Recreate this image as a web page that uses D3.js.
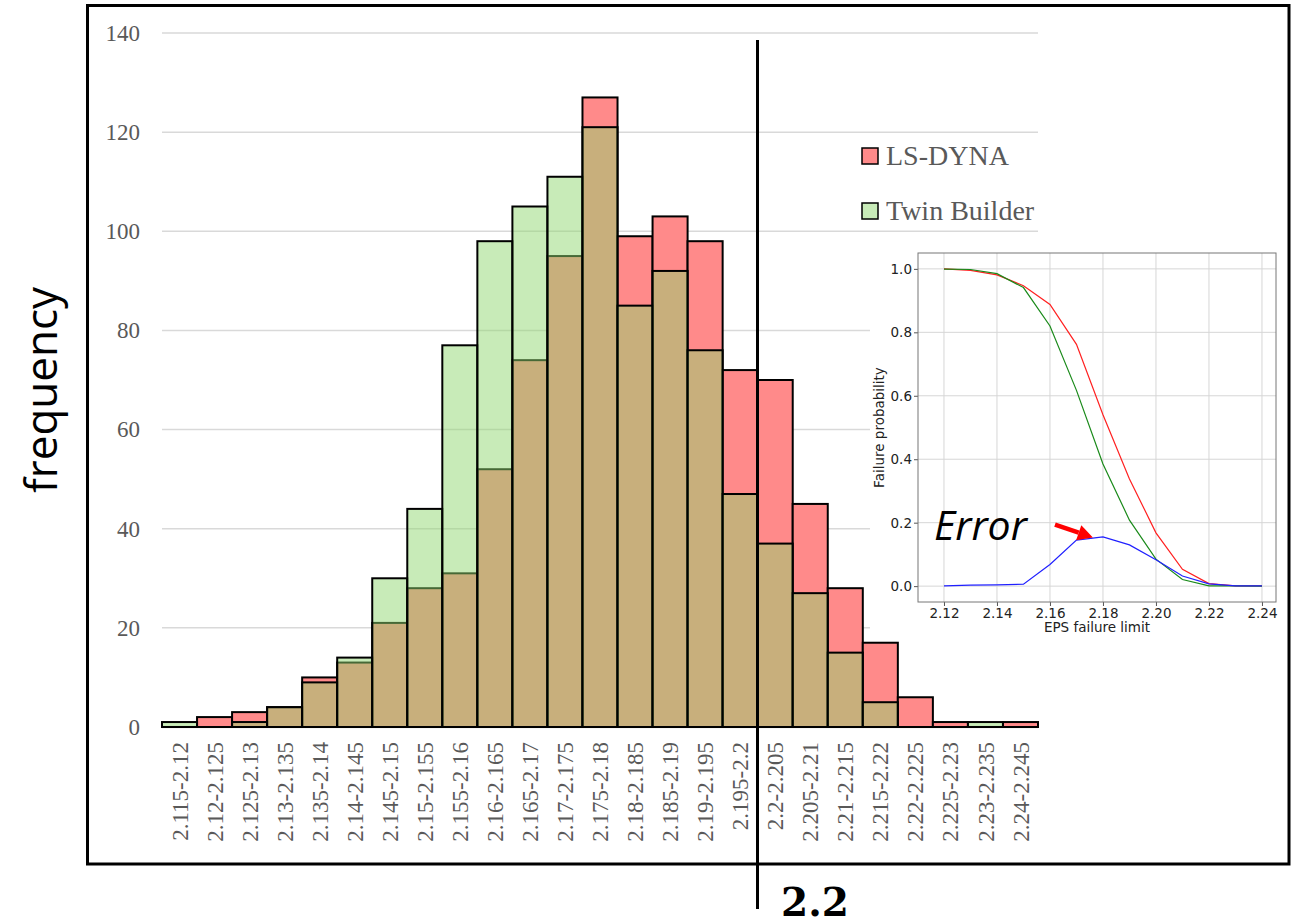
<!DOCTYPE html>
<html>
<head>
<meta charset="utf-8">
<script src="https://cdn.jsdelivr.net/npm/d3@7"></script>
<style>
  body { margin: 0; background: #fff; }
</style>
</head>
<body>
<div id="chart"></div>
<script>
// histogram bins and counts
const bins = ["2.115-2.12", "2.12-2.125", "2.125-2.13", "2.13-2.135", "2.135-2.14",
  "2.14-2.145", "2.145-2.15", "2.15-2.155", "2.155-2.16", "2.16-2.165", "2.165-2.17",
  "2.17-2.175", "2.175-2.18", "2.18-2.185", "2.185-2.19", "2.19-2.195", "2.195-2.2",
  "2.2-2.205", "2.205-2.21", "2.21-2.215", "2.215-2.22", "2.22-2.225", "2.225-2.23",
  "2.23-2.235", "2.24-2.245"];
const lsDyna = [0, 2, 3, 4, 10, 13, 21, 28, 31, 52, 74, 95, 127, 99, 103, 98, 72, 70, 45, 28, 17, 6, 1, 0, 1];
const twinBuilder = [1, 0, 1, 4, 9, 14, 30, 44, 77, 98, 105, 111, 121, 85, 92, 76, 47, 37, 27, 15, 5, 0, 0, 1, 0];
const yTicks = [0, 20, 40, 60, 80, 100, 120, 140];

// inset: failure probability vs EPS failure limit
const limits = [2.12, 2.13, 2.14, 2.15, 2.16, 2.17, 2.18, 2.19, 2.20, 2.21, 2.22, 2.23, 2.24];
const probLsDyna = [1.0, 0.995, 0.981, 0.947, 0.888, 0.762, 0.54, 0.338, 0.168, 0.053, 0.008, 0.001, 0.001];
const probTwin = [0.999, 0.998, 0.985, 0.941, 0.82, 0.617, 0.385, 0.208, 0.085, 0.021, 0.001, 0.001, 0.0];
const probError = [0.001, 0.003, 0.004, 0.006, 0.068, 0.145, 0.155, 0.13, 0.083, 0.032, 0.007, 0.001, 0.001];
const insetXTicks = [2.12, 2.14, 2.16, 2.18, 2.20, 2.22, 2.24];
const insetYTicks = [0, 0.2, 0.4, 0.6, 0.8, 1.0];

const svg = d3.select("#chart")
  .append("svg")
    .attr("width", 1299)
    .attr("height", 923);

// main scales
const x = d3.scaleBand()
  .domain(bins)
  .range([162, 1038])
  .padding(0);

const y = d3.scaleLinear()
  .domain([0, 140])
  .range([727, 33]);

const serif = "'Liberation Serif', 'Times New Roman', serif";

// gridlines
svg.selectAll(".yGrid")
  .data(yTicks.slice(1))
  .join("line")
  .attr("x1", 162)
  .attr("x2", 1038)
  .attr("y1", d => y(d))
  .attr("y2", d => y(d))
  .attr("stroke", "#d9d9d9")
  .attr("stroke-width", 1.5);

svg.append("line")
  .attr("x1", 162).attr("x2", 1038)
  .attr("y1", y(0)).attr("y2", y(0))
  .attr("stroke", "#d9d9d9")
  .attr("stroke-width", 2.5);

// y axis
const yAxis = svg.append("g")
  .attr("transform", "translate(162,0)")
  .call(d3.axisLeft(y).tickValues(yTicks).tickSize(0).tickPadding(22));
yAxis.select(".domain").remove();
yAxis.selectAll("text")
  .style("font-family", serif)
  .style("font-size", "23px")
  .attr("fill", "#595959");

// x axis
const xAxis = svg.append("g")
  .attr("transform", `translate(0,${y(0)})`)
  .call(d3.axisBottom(x).tickSize(0));
xAxis.select(".domain").remove();
xAxis.selectAll("text")
  .attr("transform", "rotate(-90)")
  .attr("x", -15)
  .attr("y", 0)
  .attr("dy", "0.35em")
  .style("text-anchor", "end")
  .style("font-family", serif)
  .style("font-size", "23px")
  .attr("fill", "#595959");

// LS-DYNA bars (under)
svg.selectAll(".redBar")
  .data(bins.map((b, i) => ({ bin: b, v: lsDyna[i] })).filter(d => d.v > 0))
  .join("rect")
  .attr("x", d => x(d.bin))
  .attr("y", d => y(d.v))
  .attr("width", x.bandwidth())
  .attr("height", d => y(0) - y(d.v))
  .attr("fill", "#ff8a8a")
  .attr("stroke", "#000")
  .attr("stroke-width", 2);

// Twin Builder bars (semi transparent, on top)
svg.selectAll(".greenBar")
  .data(bins.map((b, i) => ({ bin: b, v: twinBuilder[i] })).filter(d => d.v > 0))
  .join("rect")
  .attr("x", d => x(d.bin))
  .attr("y", d => y(d.v))
  .attr("width", x.bandwidth())
  .attr("height", d => y(0) - y(d.v))
  .attr("fill", "rgb(142,214,111)")
  .attr("fill-opacity", 0.49)
  .attr("stroke", "#000")
  .attr("stroke-width", 2);

// legend
const legend = [
  { name: "LS-DYNA", fill: "#ff8a8a", op: 1, y: 165 },
  { name: "Twin Builder", fill: "rgb(142,214,111)", op: 0.49, y: 220 }
];
const lg = svg.selectAll(".legend")
  .data(legend)
  .join("g");
lg.append("rect")
  .attr("x", 862)
  .attr("y", d => d.y - 17)
  .attr("width", 16)
  .attr("height", 16)
  .attr("fill", d => d.fill)
  .attr("fill-opacity", d => d.op)
  .attr("stroke", "#000")
  .attr("stroke-width", 1.5);
lg.append("text")
  .attr("x", 886)
  .attr("y", d => d.y)
  .style("font-family", serif)
  .style("font-size", "28px")
  .attr("fill", "#595959")
  .text(d => d.name);

// y label
svg.append("text")
  .attr("transform", "translate(57,390) rotate(-90)")
  .attr("text-anchor", "middle")
  .style("font-family", "'Open Sans', sans-serif")
  .style("font-size", "44px")
  .attr("fill", "#000")
  .text("frequency");

// ---- inset ----
const ix = d3.scaleLinear()
  .domain([2.1102, 2.2453])
  .range([918, 1276]);
const iy = d3.scaleLinear()
  .domain([-0.05, 1.05])
  .range([602, 253]);

svg.append("rect")
  .attr("x", 870).attr("y", 240)
  .attr("width", 418).attr("height", 400)
  .attr("fill", "#fff");

svg.selectAll(".ixGrid")
  .data(insetXTicks)
  .join("line")
  .attr("x1", d => ix(d)).attr("x2", d => ix(d))
  .attr("y1", 253).attr("y2", 602)
  .attr("stroke", "#d6d6d6")
  .attr("stroke-width", 1);
svg.selectAll(".iyGrid")
  .data(insetYTicks)
  .join("line")
  .attr("x1", 918).attr("x2", 1276)
  .attr("y1", d => iy(d)).attr("y2", d => iy(d))
  .attr("stroke", "#d6d6d6")
  .attr("stroke-width", 1);

const sans = "'DejaVu Sans', sans-serif";

const ixAxis = svg.append("g")
  .attr("transform", "translate(0,602)")
  .call(d3.axisBottom(ix).tickValues(insetXTicks).tickFormat(d3.format(".2f")).tickSize(4).tickPadding(2));
const iyAxis = svg.append("g")
  .attr("transform", "translate(918,0)")
  .call(d3.axisLeft(iy).tickValues(insetYTicks).tickFormat(d3.format(".1f")).tickSize(4).tickPadding(2));
[ixAxis, iyAxis].forEach(a => {
  a.select(".domain").remove();
  a.selectAll("line").attr("stroke", "#555");
  a.selectAll("text")
    .style("font-family", sans)
    .style("font-size", "13.5px")
    .attr("fill", "#222");
});

svg.append("rect")
  .attr("x", 918).attr("y", 253)
  .attr("width", 1276 - 918).attr("height", 602 - 253)
  .attr("fill", "none")
  .attr("stroke", "#777")
  .attr("stroke-width", 1);

svg.append("text")
  .attr("x", (918 + 1276) / 2)
  .attr("y", 632)
  .attr("text-anchor", "middle")
  .style("font-family", sans)
  .style("font-size", "13.5px")
  .attr("fill", "#222")
  .text("EPS failure limit");

svg.append("text")
  .attr("transform", `translate(884,${(253 + 602) / 2}) rotate(-90)`)
  .attr("text-anchor", "middle")
  .style("font-family", sans)
  .style("font-size", "13.5px")
  .attr("fill", "#222")
  .text("Failure probability");

const line = d3.line()
  .x((d, i) => ix(limits[i]))
  .y(d => iy(d));

[[probLsDyna, "#ff2020"], [probTwin, "#1a8a1a"], [probError, "#2020ff"]].forEach(([data, color]) => {
  svg.append("path")
    .datum(data)
    .attr("fill", "none")
    .attr("stroke", color)
    .attr("stroke-width", 1.2)
    .attr("d", line);
});

// Error annotation
svg.append("text")
  .attr("x", 934)
  .attr("y", 540)
  .style("font-family", "'Open Sans', sans-serif")
  .style("font-style", "italic")
  .style("font-size", "41px")
  .attr("fill", "#000")
  .text("Error");

const tail = [ix(2.1619), iy(0.194)];
const tip = [ix(2.1762), iy(0.153)];
const ang = Math.atan2(tip[1] - tail[1], tip[0] - tail[0]);
const headLen = 15, headW = 8;
const base = [tip[0] - headLen * Math.cos(ang), tip[1] - headLen * Math.sin(ang)];
svg.append("line")
  .attr("x1", tail[0]).attr("y1", tail[1])
  .attr("x2", base[0]).attr("y2", base[1])
  .attr("stroke", "#ff0000")
  .attr("stroke-width", 4.5);
svg.append("path")
  .attr("d", `M${tip[0]},${tip[1]}L${base[0] - headW * Math.sin(ang)},${base[1] + headW * Math.cos(ang)}L${base[0] + headW * Math.sin(ang)},${base[1] - headW * Math.cos(ang)}Z`)
  .attr("fill", "#ff0000");

// outer frame
svg.append("rect")
  .attr("x", 87.5).attr("y", 5.5)
  .attr("width", 1289 - 87.5).attr("height", 864 - 5.5)
  .attr("fill", "none")
  .attr("stroke", "#000")
  .attr("stroke-width", 3);

// 2.2 marker line
svg.append("line")
  .attr("x1", 757.5).attr("x2", 757.5)
  .attr("y1", 40).attr("y2", 909)
  .attr("stroke", "#000")
  .attr("stroke-width", 3);

svg.append("text")
  .attr("x", 781)
  .attr("y", 916)
  .style("font-family", "'DejaVu Serif', serif")
  .style("font-weight", "bold")
  .style("font-size", "39px")
  .attr("fill", "#000")
  .text("2.2");
</script>
</body>
</html>
